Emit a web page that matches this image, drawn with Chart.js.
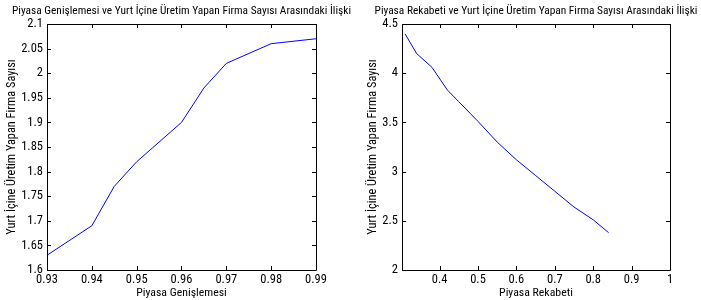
<!DOCTYPE html>
<html>
<head>
<meta charset="utf-8">
<script src="https://cdn.jsdelivr.net/npm/chart.js@4"></script>
<style>
  html, body { margin: 0; padding: 0; background: #fff; }
  #wrap { position: relative; width: 701px; height: 300px; overflow: hidden; }
  canvas { position: absolute; top: 0; }
  #leftChart { left: 0; }
  #rightChart { left: 350px; }
</style>
</head>
<body>
<div id="wrap">
  <canvas id="leftChart" width="363" height="300"></canvas>
  <canvas id="rightChart" width="372" height="300"></canvas>
</div>
<script>
// left panel: market expansion
const genislemeX = [0.93, 0.94, 0.945, 0.95, 0.96, 0.965, 0.97, 0.98, 0.99];
const genislemeFirma = [1.63, 1.69, 1.77, 1.82, 1.90, 1.97, 2.02, 2.06, 2.07];

// right panel: market competition
const rekabetX = [0.31, 0.34, 0.38, 0.42, 0.45, 0.50, 0.55, 0.60, 0.65, 0.70, 0.75, 0.80, 0.84];
const rekabetFirma = [4.40, 4.20, 4.06, 3.83, 3.71, 3.51, 3.30, 3.12, 2.96, 2.80, 2.64, 2.51, 2.38];

// narrow face, close to the matlab helvetica look
const FONT = "'Roboto Condensed', 'Liberation Sans', Arial, sans-serif";
Chart.defaults.color = "#000";
Chart.defaults.font.family = FONT;

const fmt = (v) => String(Math.round(v * 1000) / 1000);

// matlab style box with inward ticks on all four sides
const boxPlugin = {
  id: "matlabBox",
  afterDraw(chart) {
    const { ctx, chartArea: a } = chart;
    const xs = chart.scales.x, ys = chart.scales.y;
    const len = 4;
    ctx.save();
    ctx.strokeStyle = "#000";
    ctx.lineWidth = 1;
    ctx.beginPath();
    ctx.rect(Math.round(a.left) + 0.5, Math.round(a.top) + 0.5,
      Math.round(a.right - a.left), Math.round(a.bottom - a.top));
    xs.ticks.forEach((t) => {
      const px = Math.round(xs.getPixelForValue(t.value)) + 0.5;
      ctx.moveTo(px, a.bottom); ctx.lineTo(px, a.bottom - len);
      ctx.moveTo(px, a.top); ctx.lineTo(px, a.top + len);
    });
    ys.ticks.forEach((t) => {
      const py = Math.round(ys.getPixelForValue(t.value)) + 0.5;
      ctx.moveTo(a.left, py); ctx.lineTo(a.left + len, py);
      ctx.moveTo(a.right, py); ctx.lineTo(a.right - len, py);
    });
    ctx.stroke();
    ctx.restore();
  },
};

function makeChart(id, title, xLabel, xs, ys, opts) {
  return new Chart(document.getElementById(id), {
    type: "line",
    data: {
      datasets: [{
        data: xs.map((x, i) => ({ x: x, y: ys[i] })),
        borderColor: "#0000ff",
        borderWidth: 1,
        pointRadius: 0,
        tension: 0,
        fill: false,
      }],
    },
    options: {
      responsive: false,
      animation: false,
      events: [],
      layout: { padding: 0 },
      plugins: {
        legend: { display: false },
        tooltip: { enabled: false },
        title: {
          display: true,
          text: title,
          font: { size: 11.4, weight: "normal" },
          padding: { top: 4.3, bottom: 6.02 },
        },
      },
      scales: {
        x: {
          type: "linear",
          min: opts.xMin,
          max: opts.xMax,
          grid: { display: false, drawTicks: false },
          border: { display: false },
          ticks: { stepSize: opts.xStep, includeBounds: false, padding: 2, maxRotation: 0,
            autoSkip: false, font: { size: 12.5 }, callback: fmt },
          title: { display: true, text: xLabel, font: { size: 11.8 }, padding: { top: 0, bottom: 0 } },
          afterFit: (s) => { s.height = 30; },
        },
        y: {
          min: opts.yMin,
          max: opts.yMax,
          grid: { display: false, drawTicks: false },
          border: { display: false },
          ticks: { stepSize: opts.yStep, padding: 4, autoSkip: false, font: { size: 12.5 }, callback: fmt },
          title: { display: true, text: "Yurt İçine Üretim Yapan Firma Sayısı", font: { size: 12.3 },
            padding: { top: opts.yTitlePad, bottom: 0 } },
          afterFit: (s) => { s.width = opts.yWidth; },
        },
        // empty spacer on the right so the title centres over the plot
        gap: {
          type: "linear",
          position: "right",
          grid: { display: false, drawTicks: false },
          border: { display: false },
          ticks: { display: false },
          afterFit: (s) => { s.width = opts.rightGap; },
        },
      },
    },
    plugins: [boxPlugin],
  });
}

makeChart("leftChart",
  "Piyasa Genişlemesi ve Yurt İçine Üretim Yapan Firma Sayısı Arasındaki İlişki",
  "Piyasa Genişlemesi", genislemeX, genislemeFirma,
  { xMin: 0.93, xMax: 0.99, xStep: 0.01, yMin: 1.6, yMax: 2.1, yStep: 0.05,
    yWidth: 47, rightGap: 47, yTitlePad: 5 });

makeChart("rightChart",
  "Piyasa Rekabeti ve Yurt İçine Üretim Yapan Firma Sayısı Arasındaki İlişki",
  "Piyasa Rekabeti", rekabetX, rekabetFirma,
  { xMin: 0.302, xMax: 1, xStep: 0.1, yMin: 2, yMax: 4.5, yStep: 0.5,
    yWidth: 52, rightGap: 52, yTitlePad: 16 });
</script>
</body>
</html>
